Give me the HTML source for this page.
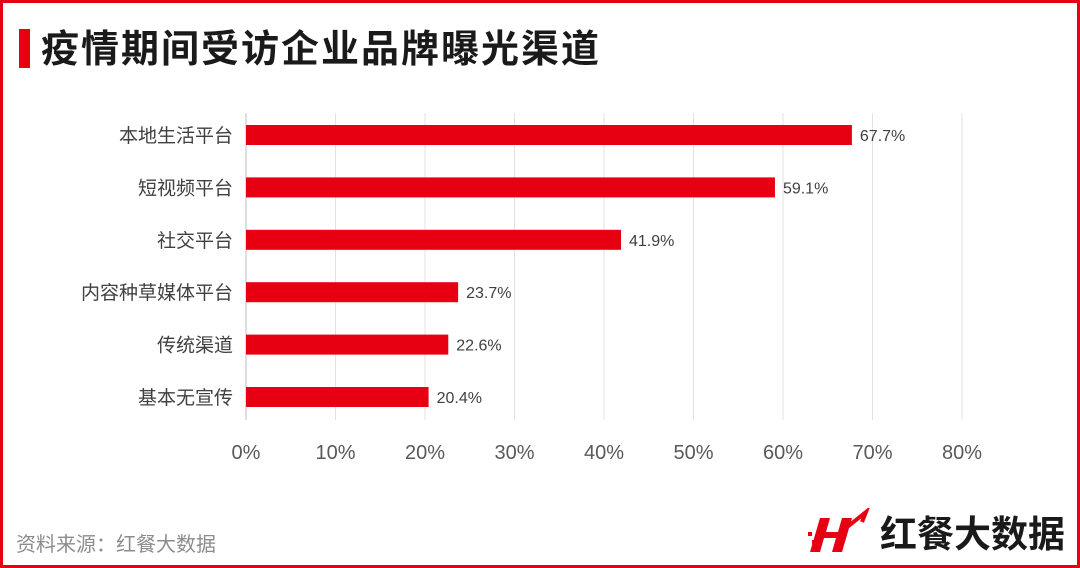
<!DOCTYPE html>
<html><head><meta charset="utf-8"><style>
body{margin:0;width:1080px;height:568px;overflow:hidden;background:#fff;font-family:"Liberation Sans","Noto Sans CJK SC",sans-serif;position:relative}
.frame{position:absolute;left:0;top:0;width:1080px;height:568px;box-sizing:border-box;border:3px solid #e60012}
</style></head><body>
<div class="frame"></div>
<div style="position:absolute;left:19px;top:29px;width:11px;height:39px;background:#e60012"></div>
<div style="position:absolute;left:41px;top:26px;font-size:38px;font-weight:bold;color:#1a1a1a;line-height:48px;letter-spacing:2px;white-space:nowrap">疫情期间受访企业品牌曝光渠道</div>
<svg id="chart" width="1080" height="568" style="position:absolute;left:0;top:0"></svg>
<div style="position:absolute;left:16px;top:528px;font-size:20px;color:#8c8c8c;white-space:nowrap">资料来源：红餐大数据</div>
<div style="position:absolute;left:806px;top:508px;height:46px;display:flex;align-items:center;white-space:nowrap">
<svg width="70" height="46"><path d="M14 10h10l-4 14h12l4-14h10l-10 34h-10l4-14h-12l-4 14h-10z" fill="#e60012"/><path d="M30 28 L60 4 L56 14" stroke="#e60012" stroke-width="4" fill="none"/><rect x="2" y="24" width="4" height="4" fill="#e60012"/><rect x="6" y="32" width="4" height="4" fill="#e60012"/></svg>
<span style="font-size:37px;font-weight:bold;color:#1a1a1a;margin-left:4px;white-space:nowrap">红餐大数据</span></div>
<script>
const categories=["本地生活平台","短视频平台","社交平台","内容种草媒体平台","传统渠道","基本无宣传"];
const values=[67.7,59.1,41.9,23.7,22.6,20.4];
const ticks=[0,10,20,30,40,50,60,70,80];
const svg=document.getElementById('chart');const NS="http://www.w3.org/2000/svg";
const x0=246,x1=962,max=80,top0=113,bot=420,rowTop=135,rowStep=52.4,barH=20;
const X=v=>x0+(x1-x0)*v/max;const Y=i=>rowTop+i*rowStep;
function mk(t,a){const e=document.createElementNS(NS,t);for(const k in a)e.setAttribute(k,a[k]);svg.appendChild(e);return e;}
ticks.forEach(t=>{const g=mk('line',{x1:X(t),x2:X(t),y1:top0,y2:bot,stroke:t===0?'#bfbfbf':'#e3e3e3','stroke-width':1});


const l=mk('text',{x:X(t),y:459,'text-anchor':'middle','font-size':20,fill:'#595959'});l.textContent=t+'%';

});
categories.forEach((c,i)=>{const cy=Y(i);
const r=mk('rect',{x:X(0),y:cy-barH/2,width:X(values[i])-X(0),height:barH,fill:'#e60012'});


const l=mk('text',{x:233,y:cy+7,'text-anchor':'end','font-size':19,fill:'#404040'});l.textContent=c;


const v=mk('text',{x:X(values[i])+8,y:cy+6,'font-size':16,fill:'#404040'});v.textContent=values[i].toFixed(1)+'%';

});
</script>
</body></html>
